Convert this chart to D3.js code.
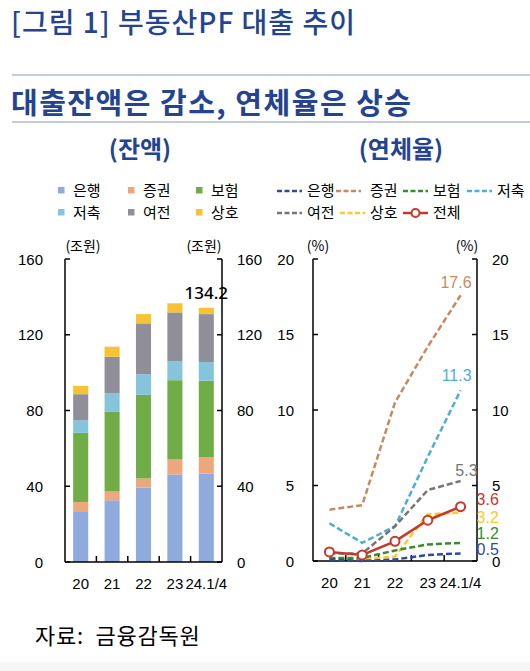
<!DOCTYPE html>
<html><head><meta charset="utf-8">
<script src="https://cdn.jsdelivr.net/npm/d3@7"></script>
<style>
html,body{margin:0;padding:0;background:#fff;}
svg{display:block;font-family:"Noto Sans CJK KR","Noto Sans",sans-serif;}
.num{font-family:"Liberation Sans",Arial,sans-serif;}
</style></head>
<body>
<svg id="c" width="530" height="671"></svg>
<script>
// ---- data ----
const categories = ["20", "21", "22", "23", "24.1/4"];
const sectorNames = ["은행", "증권", "보험", "저축", "여전", "상호"];
// balance (조원)
const balBank = [26.4, 32.6, 39.3, 46.2, 46.7];
const balSecurities = [5.3, 4.6, 4.8, 7.9, 8.6];
const balInsurance = [36.5, 42.3, 44.2, 41.9, 40.4];
const balSavings = [6.7, 9.5, 10.9, 10.1, 9.9];
const balCard = [13.7, 19.4, 26.8, 25.7, 25.3];
const balMutual = [4.4, 5.3, 4.9, 4.8, 3.3];
const balTotalLabel = "134.2";
// delinquency rate (%)
const rateNames = ["은행", "증권", "보험", "저축", "여전", "상호", "전체"];
const rateBank = [0.1, 0.0, 0.1, 0.4, 0.5];
const rateSecurities = [3.4, 3.7, 10.5, 14.2, 17.6];
const rateInsurance = [0.2, 0.2, 0.7, 1.1, 1.2];
const rateSavings = [2.5, 1.2, 2.3, 6.9, 11.3];
const rateCard = [0.5, 0.5, 2.3, 4.7, 5.3];
const rateMutual = [0.2, 0.1, 0.3, 3.1, 3.2];
const rateTotal = [0.6, 0.4, 1.3, 2.7, 3.6];
const leftTicks = [0, 40, 80, 120, 160];
const rightTicks = [0, 5, 10, 15, 20];

// ---- styles ----
const barColors = ["#8FAADC", "#EDA77C", "#70AD47", "#84C5DB", "#8F8F99", "#F8C233"];
const lineColors = ["#2F4B9A", "#C48B63", "#3A8A2E", "#4DAED6", "#767676", "#FFC92E", "#C8372B"];
const navy = "#24448F";

const svg = d3.select("#c");
svg.append("rect").attr("x", 0).attr("y", 662).attr("width", 530).attr("height", 9).attr("fill", "#f6f6f6");

// titles
svg.append("text").attr("x", 11).attr("y", 33).attr("fill", navy).attr("letter-spacing", 1)
  .attr("font-size", 28).attr("font-weight", 500).text("[그림 1] 부동산PF 대출 추이");
svg.append("line").attr("x1", 12).attr("x2", 530).attr("y1", 75).attr("y2", 75).attr("stroke", "#8C98B8").attr("stroke-width", 1.2);
svg.append("text").attr("x", 11).attr("y", 114).attr("fill", navy).attr("letter-spacing", 1.5)
  .attr("font-size", 29).attr("font-weight", 600).text("대출잔액은 감소, 연체율은 상승");
svg.append("line").attr("x1", 12).attr("x2", 530).attr("y1", 122).attr("y2", 122).attr("stroke", "#8C98B8").attr("stroke-width", 1.2);
svg.append("text").attr("x", 140).attr("y", 158).attr("text-anchor", "middle").attr("fill", navy)
  .attr("font-size", 24).attr("font-weight", 700).text("(잔액)");
svg.append("text").attr("x", 401).attr("y", 158).attr("text-anchor", "middle").attr("fill", navy)
  .attr("font-size", 24).attr("font-weight", 700).text("(연체율)");

// ---- legends ----
const lgBar = svg.append("g");
const lgPos = [[58, 190], [128, 190], [196, 190], [58, 212], [128, 212], [196, 212]];
sectorNames.forEach((n, i) => {
  const [x, y] = lgPos[i];
  lgBar.append("rect").attr("x", x).attr("y", y - 3).attr("width", 6.5).attr("height", 6.5).attr("fill", barColors[i]);
  lgBar.append("text").attr("x", x + 15).attr("y", y + 6).attr("font-size", 15).text(n);
});
const lgLine = svg.append("g");
const llPos = [[277, 190], [336, 190], [403, 190], [467, 190], [277, 212], [340, 212], [403, 212]];
const llText = [307, 370, 433, 497, 307, 370, 433];
rateNames.forEach((n, i) => {
  const [x, y] = llPos[i];
  const ln = lgLine.append("line").attr("x1", x).attr("x2", x + 25).attr("y1", y + 1).attr("y2", y + 1)
    .attr("stroke", lineColors[i]).attr("stroke-width", 2.5);
  if (i < 6) ln.attr("stroke-dasharray", "5,2.5");
  else lgLine.append("circle").attr("cx", x + 12.5).attr("cy", y + 1).attr("r", 4).attr("fill", "#fff").attr("stroke", lineColors[i]).attr("stroke-width", 2);
  lgLine.append("text").attr("x", llText[i]).attr("y", y + 6).attr("font-size", 15).text(n);
});

// ---- left bar chart ----
const L = {x0: 65, x1: 222, yTop: 259, yBot: 562};
const xb = d3.scaleBand().domain(categories).range([L.x0, L.x1]).padding(0);
const yb = d3.scaleLinear().domain([0, 160]).range([L.yBot, L.yTop]);
const balSeries = [balBank, balSecurities, balInsurance, balSavings, balCard, balMutual];
const rows = categories.map((c, i) => {
  const o = {cat: c};
  sectorNames.forEach((n, k) => o[n] = balSeries[k][i]);
  return o;
});
const stack = d3.stack().keys(sectorNames)(rows);
const bw = xb.bandwidth() * 0.48;
const gBars = svg.append("g");
stack.forEach((layer, k) => {
  gBars.selectAll(null).data(layer).enter().append("rect")
    .attr("x", d => xb(d.data.cat) + (xb.bandwidth() - bw) / 2)
    .attr("width", bw)
    .attr("y", d => yb(d[1]))
    .attr("height", d => yb(d[0]) - yb(d[1]))
    .attr("fill", barColors[k]);
});
const lastTop = stack[stack.length - 1][categories.length - 1][1];
svg.append("text").attr("x", xb(categories[4]) + xb.bandwidth() / 2).attr("y", yb(lastTop) - 9)
  .attr("text-anchor", "middle").attr("font-size", 17).attr("font-weight", 500).attr("font-family", "'Noto Sans',sans-serif").text(balTotalLabel);

function frame(x0, x1, yTop, yBot, yScale, ticks, xCats, leftLabX, rightLabX, unit, unitLx, unitRx, xLabelPos) {
  const g = svg.append("g").attr("stroke", "#000").attr("stroke-width", 1.5).attr("fill", "none");
  g.append("line").attr("x1", x0).attr("x2", x0).attr("y1", yTop).attr("y2", yBot);
  g.append("line").attr("x1", x1).attr("x2", x1).attr("y1", yTop).attr("y2", yBot);
  g.append("line").attr("x1", x0).attr("x2", x1).attr("y1", yBot).attr("y2", yBot);
  ticks.forEach(t => {
    g.append("line").attr("x1", x0).attr("x2", x0 + 5).attr("y1", yScale(t)).attr("y2", yScale(t));
    g.append("line").attr("x1", x1).attr("x2", x1 - 5).attr("y1", yScale(t)).attr("y2", yScale(t));
    svg.append("text").attr("class", "num").attr("x", leftLabX).attr("y", yScale(t) + 5.5).attr("text-anchor", "end").attr("font-size", 15).text(t);
    svg.append("text").attr("class", "num").attr("x", rightLabX).attr("y", yScale(t) + 5.5).attr("text-anchor", "start").attr("font-size", 15).text(t);
  });
  const step = (x1 - x0) / xCats.length;
  for (let i = 1; i < xCats.length; i++) {
    g.append("line").attr("x1", x0 + step * i).attr("x2", x0 + step * i).attr("y1", yBot).attr("y2", yBot - 6);
  }
  xCats.forEach(c => {
    svg.append("text").attr("class", "num").attr("x", xLabelPos(c)).attr("y", yBot + 27).attr("text-anchor", "middle").attr("font-size", 15).text(c);
  });
  svg.append("text").attr("x", unitLx).attr("y", yTop - 8).attr("text-anchor", "middle").attr("font-size", 14).text(unit);
  svg.append("text").attr("x", unitRx).attr("y", yTop - 8).attr("text-anchor", "middle").attr("font-size", 14).text(unit);
}
frame(L.x0, L.x1, L.yTop, L.yBot, yb, leftTicks, categories, 43, 237, "(조원)", 83, 204,
  c => xb(c) + xb.bandwidth() / 2);

// ---- right line chart ----
const R = {x0: 313, x1: 477, yTop: 259, yBot: 561};
const xp = d3.scalePoint().domain(categories).range([R.x0, R.x1]).padding(0.5);
const yr = d3.scaleLinear().domain([0, 20]).range([R.yBot, R.yTop]);
frame(R.x0, R.x1, R.yTop, R.yBot, yr, rightTicks, categories, 294, 492, "(%)", 318, 467, c => xp(c));

const rateSeries = [rateBank, rateSecurities, rateInsurance, rateSavings, rateCard, rateMutual, rateTotal];
const line = d3.line().x((d, i) => xp(categories[i])).y(d => yr(d));
const drawOrder = [1, 3, 4, 5, 2, 0, 6];
const gL = svg.append("g");
drawOrder.forEach(k => {
  const p = gL.append("path").datum(rateSeries[k]).attr("d", line).attr("fill", "none")
    .attr("stroke", lineColors[k]).attr("stroke-width", 2.5);
  if (k < 6) p.attr("stroke-dasharray", "6,3");
});
gL.selectAll(null).data(rateTotal).enter().append("circle")
  .attr("cx", (d, i) => xp(categories[i])).attr("cy", d => yr(d)).attr("r", 4.5)
  .attr("fill", "#fff").attr("stroke", lineColors[6]).attr("stroke-width", 2);

// end labels: [dx, dy, anchor]
const labelOff = {1: [11, -7, "end"], 3: [11, -9, "end"], 4: [17, -5, "end"], 6: [16, -2, "start"], 5: [16, 10, "start"], 2: [16, -4, "start"], 0: [16, 2, "start"]};
const lastX = xp(categories[categories.length - 1]);
Object.keys(labelOff).forEach(key => {
  const k = +key, o = labelOff[k];
  const v = rateSeries[k][rateSeries[k].length - 1];
  svg.append("text").attr("class", "num").attr("x", lastX + o[0]).attr("y", yr(v) + o[1])
    .attr("text-anchor", o[2]).attr("font-size", 16).attr("fill", lineColors[k]).text(v.toFixed(1));
});

// source
svg.append("text").attr("x", 35).attr("y", 644).attr("font-size", 22).attr("letter-spacing", 0.8).attr("xml:space", "preserve").text("자료:  금융감독원");
</script>
</body></html>
